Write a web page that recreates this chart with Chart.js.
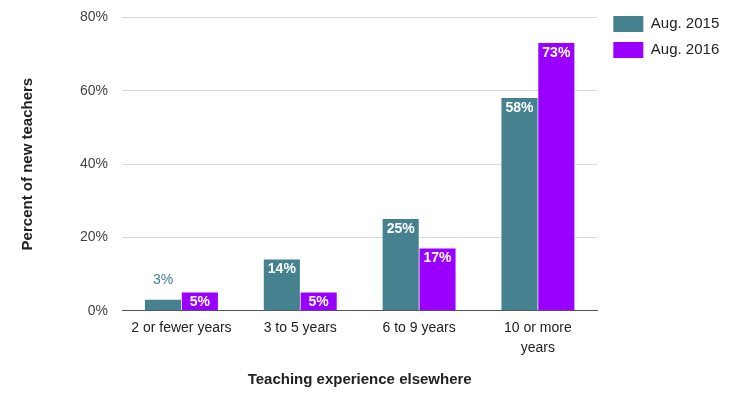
<!DOCTYPE html>
<html>
<head>
<meta charset="utf-8">
<script src="https://cdn.jsdelivr.net/npm/chart.js@4"></script>
<style>
  html, body { margin: 0; padding: 0; background: #fff; }
  #wrap { width: 737px; height: 395px; }
</style>
</head>
<body>
<div id="wrap"><canvas id="chart"></canvas></div>
<script>
const categories = ['2 or fewer years', '3 to 5 years', '6 to 9 years', ['10 or more', 'years']];
const aug2015 = [3, 14, 25, 58];
const aug2016 = [5, 5, 17, 73];
const yTicks = [0, 20, 40, 60, 80];

const FONT = '"Liberation Sans", Arial, sans-serif';

// values on the bars: white inside, teal above when the bar is too short
const barLabels = {
    id: 'barLabels',
    afterLayout(chart) {
        // nudge legend down a little
        chart.legend.top += 5;
        chart.legend.bottom += 5;
    },
    afterDatasetsDraw(chart) {
        const ctx = chart.ctx;
        ctx.save();
        ctx.textAlign = 'center';
        ctx.textBaseline = 'middle';
        chart.data.datasets.forEach((ds, i) => {
            chart.getDatasetMeta(i).data.forEach((bar, j) => {
                const v = ds.data[j];
                const h = bar.base - bar.y;
                if (h >= 16) {
                    ctx.font = 'bold 14px ' + FONT;
                    ctx.fillStyle = '#ffffff';
                    ctx.fillText(v + '%', bar.x, bar.y + 10);
                } else {
                    ctx.font = '14px ' + FONT;
                    ctx.fillStyle = ds.backgroundColor;
                    ctx.fillText(v + '%', bar.x, bar.y - 20);
                }
            });
        });
        ctx.restore();
    }
};

new Chart(document.getElementById('chart'), {
    type: 'bar',
    data: {
        labels: categories,
        datasets: [{
            label: 'Aug. 2015',
            data: aug2015,
            backgroundColor: '#45818e',
            barPercentage: 0.98,
            categoryPercentage: 0.62
        }, {
            label: 'Aug. 2016',
            data: aug2016,
            backgroundColor: '#9900ff',
            barPercentage: 0.98,
            categoryPercentage: 0.62
        }]
    },
    options: {
        responsive: true,
        maintainAspectRatio: false,
        animation: false,
        layout: { padding: { top: 1, right: 16, left: 15, bottom: 2 } },
        plugins: {
            legend: {
                position: 'right',
                align: 'start',
                labels: {
                    boxWidth: 30,
                    boxHeight: 16,
                    padding: 10,
                    color: '#222',
                    font: { family: FONT, size: 15 }
                }
            },
            tooltip: { enabled: false }
        },
        scales: {
            x: {
                grid: { display: false },
                border: { color: '#555' },
                ticks: {
                    color: '#222',
                    padding: 0,
                    font: { family: FONT, size: 14, lineHeight: 1.4 }
                },
                title: {
                    display: true,
                    text: 'Teaching experience elsewhere',
                    color: '#222',
                    font: { family: FONT, size: 15, weight: 'bold' },
                    padding: { top: 13 }
                }
            },
            y: {
                min: 0,
                max: 80,
                afterBuildTicks: axis => { axis.ticks = yTicks.map(v => ({ value: v })); },
                grid: { color: '#d9d9d9', drawTicks: true, tickLength: 5, tickColor: 'rgba(0,0,0,0)' },
                border: { display: false },
                ticks: {
                    color: '#444',
                    padding: 9,
                    font: { family: FONT, size: 14 },
                    callback: v => v + '%'
                },
                title: {
                    display: true,
                    text: 'Percent of new teachers',
                    color: '#222',
                    font: { family: FONT, size: 15, weight: 'bold' },
                    padding: { bottom: 34 }
                }
            },
            // empty spacer between plot and legend
            gap: {
                type: 'linear',
                position: 'right',
                grid: { display: false },
                border: { display: false },
                ticks: { display: false },
                afterFit: s => { s.width = 6; }
            }
        }
    },
    plugins: [barLabels]
});
</script>
</body>
</html>
